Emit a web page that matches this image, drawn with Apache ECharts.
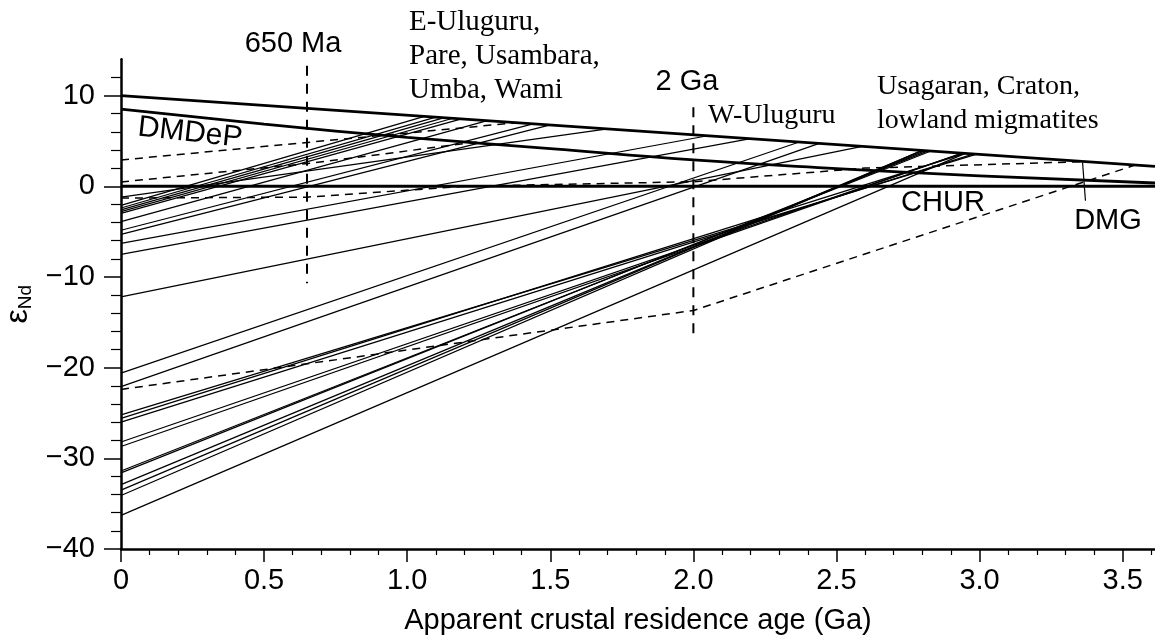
<!DOCTYPE html>
<html>
<head>
<meta charset="utf-8">
<script src="https://cdn.jsdelivr.net/npm/echarts@6/dist/echarts.min.js"></script>
<style>
  html, body { margin: 0; padding: 0; background: #fff; }
  #chart { width: 1155px; height: 639px; }
</style>
</head>
<body>
<div id="chart"></div>
<script>
// axis ticks
const xMajor = [0, 0.5, 1.0, 1.5, 2.0, 2.5, 3.0, 3.5]
const xMinor = [0.1, 0.2, 0.3, 0.4, 0.6, 0.7, 0.8, 0.9, 1.1, 1.2, 1.3, 1.4, 1.6, 1.7, 1.8, 1.9,
  2.1, 2.2, 2.3, 2.4, 2.6, 2.7, 2.8, 2.9, 3.1, 3.2, 3.3, 3.4, 3.6]
const yMajor = [-40, -30, -20, -10, 0, 10]
const yMinor = [-38, -36, -34, -32, -28, -26, -24, -22, -18, -16, -14, -12, -8, -6, -4, -2, 2, 4, 6, 8, 12]

// reference evolution curves [age Ga, eNd]
const chur = [[0, 0], [3.613, 0]]
const dmg = [[0, 10], [3.613, 2.2]]
const dmdep = [[0, 8.5], [0.5, 6.85], [1.0, 5.4], [1.5, 4.15], [2.0, 2.9], [2.5, 1.95], [3.0, 1.15], [3.613, 0.36]]

// sample evolution lines: present-day eNd -> model age on DMG
const sampleLines = [
  [[0, -1.2], [1.70, 6.33]],
  [[0, -2.1], [1.06, 7.71]],
  [[0, -2.4], [1.10, 7.62]],
  [[0, -2.6], [1.13, 7.56]],
  [[0, -2.8], [1.16, 7.50]],
  [[0, -3.0], [1.19, 7.43]],
  [[0, -3.9], [1.28, 7.24]],
  [[0, -4.85], [1.44, 6.89]],
  [[0, -5.3], [1.50, 6.76]],
  [[0, -6.3], [2.05, 5.57]],
  [[0, -7.5], [2.20, 5.25]],
  [[0, -12.2], [2.59, 4.41]],
  [[0, -20.6], [2.37, 4.88]],
  [[0, -22.1], [2.44, 4.73]],
  [[0, -25.2], [2.99, 3.54]],
  [[0, -25.6], [2.95, 3.63]],
  [[0, -26.0], [2.98, 3.57]],
  [[0, -28.2], [2.94, 3.65]],
  [[0, -28.7], [2.94, 3.65]],
  [[0, -31.4], [2.83, 3.89]],
  [[0, -31.6], [2.82, 3.91]],
  [[0, -32.9], [2.81, 3.93]],
  [[0, -33.5], [2.80, 3.96]],
  [[0, -34.1], [2.80, 3.96]],
  [[0, -36.3], [2.95, 3.63]]
]

// dashed paths
const dashedLines = [
  [[0, 2.9], [1.38, 7.0]],
  [[0, 0.47], [0.65, 2.5], [1.25, 4.9]],
  [[0, -1.3], [0.65, -1.2], [1.2, 0], [2.0, 0.5], [2.6, 2.0], [3.35, 2.7]],
  [[0, -22.4], [2.0, -13.7], [3.54, 2.3]]
]

// 650 Ma and 2 Ga markers, DMG leader
const ageMarkers = [
  [[0.65, 13.3], [0.65, -10.7]],
  [[2.0, 8.7], [2.0, -16.3]]
]
const dmgLeader = [[3.36, 2.6], [3.37, -1.6]]

const sans = 'Liberation Sans'
const serif = 'Liberation Serif'

function lineSeries (data, width, dash) {
  return {
    type: 'line',
    data: data,
    showSymbol: false,
    symbol: 'none',
    silent: true,
    animation: false,
    lineStyle: { color: '#000', width: width, type: dash || 'solid' },
    z: 3
  }
}

const series = []
sampleLines.forEach(d => series.push(lineSeries(d, 1.25)))
dashedLines.forEach(d => series.push(lineSeries(d, 1.5, [8, 6])))
ageMarkers.forEach(d => series.push(lineSeries(d, 2, [10, 8])))
series.push(lineSeries(dmgLeader, 1.2))
series.push(lineSeries(chur, 3))
series.push(lineSeries(dmg, 2.8))
series.push(Object.assign(lineSeries(dmdep, 2.8), { smooth: true }))

const fmtX = v => (v === 0 ? '0' : v.toFixed(1))
const fmtY = v => String(v).replace('-', '\u2212')

const option = {
  backgroundColor: '#fff',
  animation: false,
  grid: { left: 121, right: 0, top: 59.3, bottom: 90, containLabel: false, outerBoundsMode: 'none' },
  xAxis: [
    {
      type: 'value', min: 0, max: 3.613,
      axisLine: { show: true, onZero: false, lineStyle: { color: '#000', width: 2.5 } },
      axisTick: { show: true, customValues: xMajor, length: 13, lineStyle: { color: '#000', width: 1.5 } },
      axisLabel: { customValues: xMajor, formatter: fmtX, fontSize: 29, fontFamily: sans, color: '#000', margin: 17 },
      splitLine: { show: false },
      name: 'Apparent crustal residence age (Ga)',
      nameLocation: 'middle',
      nameGap: 57,
      nameTextStyle: { fontSize: 29, fontFamily: sans, color: '#000' }
    },
    {
      type: 'value', min: 0, max: 3.613, position: 'bottom',
      axisLine: { show: false, onZero: false },
      axisTick: { show: true, customValues: xMinor, length: 6, lineStyle: { color: '#000', width: 1.2 } },
      axisLabel: { show: false },
      splitLine: { show: false }
    }
  ],
  yAxis: [
    {
      type: 'value', min: -40, max: 14, position: 'left',
      axisLine: { show: true, onZero: false, lineStyle: { color: '#000', width: 2.5 } },
      axisTick: { show: true, customValues: yMajor, length: 17, lineStyle: { color: '#000', width: 1.5 } },
      axisLabel: { customValues: yMajor, formatter: fmtY, fontSize: 29, fontFamily: sans, color: '#000', margin: 26 },
      splitLine: { show: false },
      name: '{e|\u03b5}{s|Nd}',
      nameLocation: 'middle',
      nameRotate: 90,
      nameGap: 65,
      nameTextStyle: {
        rich: {
          e: { fontSize: 32, fontFamily: sans, color: '#000' },
          s: { fontSize: 19, fontFamily: sans, color: '#000', padding: [14, 0, 0, 0] }
        }
      }
    },
    {
      type: 'value', min: -40, max: 14, position: 'left',
      axisLine: { show: false, onZero: false },
      axisTick: { show: true, customValues: yMinor, length: 10, lineStyle: { color: '#000', width: 1.2 } },
      axisLabel: { show: false },
      splitLine: { show: false }
    }
  ],
  graphic: [
    { type: 'text', x: 293, y: 44, style: { text: '650 Ma', fontSize: 29, fontFamily: sans, fill: '#000', align: 'center', verticalAlign: 'middle' } },
    { type: 'text', x: 409, y: 5.5, style: { text: 'E-Uluguru,\nPare, Usambara,\nUmba, Wami', fontSize: 29, lineHeight: 34, fontFamily: serif, fill: '#000', align: 'left', verticalAlign: 'top' } },
    { type: 'text', x: 687, y: 82, style: { text: '2 Ga', fontSize: 29, fontFamily: sans, fill: '#000', align: 'center', verticalAlign: 'middle' } },
    { type: 'text', x: 708, y: 116, style: { text: 'W-Uluguru', fontSize: 28, fontFamily: serif, fill: '#000', align: 'left', verticalAlign: 'middle' } },
    { type: 'text', x: 877, y: 70, style: { text: 'Usagaran, Craton,\nlowland migmatites', fontSize: 28, lineHeight: 34, fontFamily: serif, fill: '#000', align: 'left', verticalAlign: 'top' } },
    { type: 'text', x: 190, y: 133, rotation: -0.11, style: { text: 'DMDeP', fontSize: 30, fontFamily: sans, fill: '#000', align: 'center', verticalAlign: 'middle' } },
    { type: 'text', x: 943, y: 203, style: { text: 'CHUR', fontSize: 29, fontFamily: sans, fill: '#000', align: 'center', verticalAlign: 'middle' } },
    { type: 'text', x: 1108, y: 221, style: { text: 'DMG', fontSize: 29, fontFamily: sans, fill: '#000', align: 'center', verticalAlign: 'middle' } }
  ],
  series: series
}

const chart = echarts.init(document.getElementById('chart'), null, { renderer: 'canvas' })
chart.setOption(option)
</script>
</body>
</html>
